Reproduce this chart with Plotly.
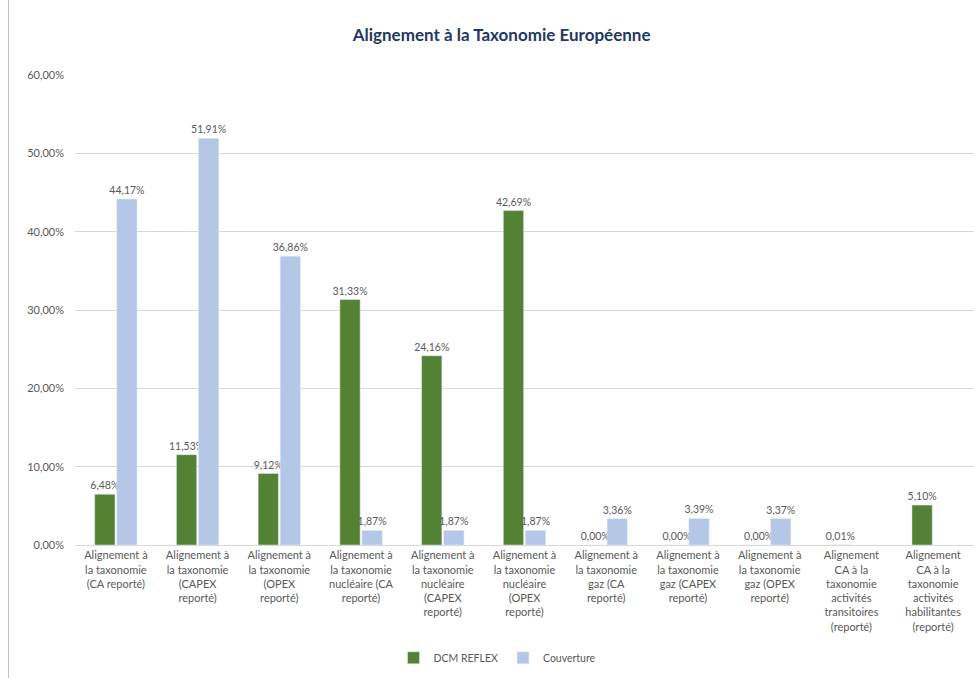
import plotly.graph_objects as go

categories = [
    "Alignement à<br>la taxonomie<br>(CA reporté)",
    "Alignement à<br>la taxonomie<br>(CAPEX<br>reporté)",
    "Alignement à<br>la taxonomie<br>(OPEX<br>reporté)",
    "Alignement à<br>la taxonomie<br>nucléaire (CA<br>reporté)",
    "Alignement à<br>la taxonomie<br>nucléaire<br>(CAPEX<br>reporté)",
    "Alignement à<br>la taxonomie<br>nucléaire<br>(OPEX<br>reporté)",
    "Alignement à<br>la taxonomie<br>gaz (CA<br>reporté)",
    "Alignement à<br>la taxonomie<br>gaz (CAPEX<br>reporté)",
    "Alignement à<br>la taxonomie<br>gaz (OPEX<br>reporté)",
    "Alignement<br>CA à la<br>taxonomie<br>activités<br>transitoires<br>(reporté)",
    "Alignement<br>CA à la<br>taxonomie<br>activités<br>habilitantes<br>(reporté)",
]
dcm_reflex = [6.48, 11.53, 9.12, 31.33, 24.16, 42.69, 0.00, 0.00, 0.00, 0.01, 5.10]
couverture = [44.17, 51.91, 36.86, 1.87, 1.87, 1.87, 3.36, 3.39, 3.37, None, None]
y_ticks = [0, 10, 20, 30, 40, 50, 60]


def fmt(v):
    if v is None:
        return ""
    return f"{v:.2f}".replace(".", ",") + "%"


fig = go.Figure()
fig.add_trace(go.Bar(
    name="DCM REFLEX", x=categories, y=dcm_reflex,
    marker=dict(color="#548235"),
    text=[fmt(v) for v in dcm_reflex], textposition="outside",
    textfont=dict(size=10.5, color="#595959"), constraintext="none",
    cliponaxis=False,
))
fig.add_trace(go.Bar(
    name="Couverture", x=categories, y=couverture,
    marker=dict(color="#B4C7E7"),
    text=[fmt(v) for v in couverture], textposition="outside",
    textfont=dict(size=10.5, color="#595959"), constraintext="none",
    cliponaxis=False,
))

fig.update_layout(
    width=974, height=678,
    margin=dict(l=75, r=0, t=75, b=133),
    paper_bgcolor="white", plot_bgcolor="white",
    font=dict(family="Lato, Open Sans, sans-serif", color="#595959", size=11),
    title=dict(text="<b>Alignement à la Taxonomie Européenne</b>",
               x=0.515, xanchor="center", y=0.948, yanchor="middle",
               font=dict(size=17, color="#1F3864")),
    barmode="group", bargap=0.46, bargroupgap=0.08,
    legend=dict(orientation="h", x=0.47, xanchor="center", y=-0.24, yanchor="middle",
                font=dict(size=10.5, color="#595959"), itemwidth=30,
                tracegroupgap=0),
    showlegend=True,
)
fig.update_yaxes(
    range=[0, 60], tickvals=y_ticks,
    ticktext=[f"{v},00%" for v in y_ticks],
    showgrid=True, gridcolor="#D9D9D9", gridwidth=1,
    zeroline=False, showline=False, ticks="", tickfont=dict(size=11),
    ticklabelstandoff=10,
)
fig.update_xaxes(
    showline=True, linecolor="#D9D9D9", linewidth=1, ticks="",
    tickangle=0, tickfont=dict(size=11),
)
fig.add_shape(type="line", xref="paper", yref="paper",
              x0=-0.074, x1=-0.074, y0=-0.3, y1=1.2,
              line=dict(color="#BFBFBF", width=1))

fig.write_html("out.html")
